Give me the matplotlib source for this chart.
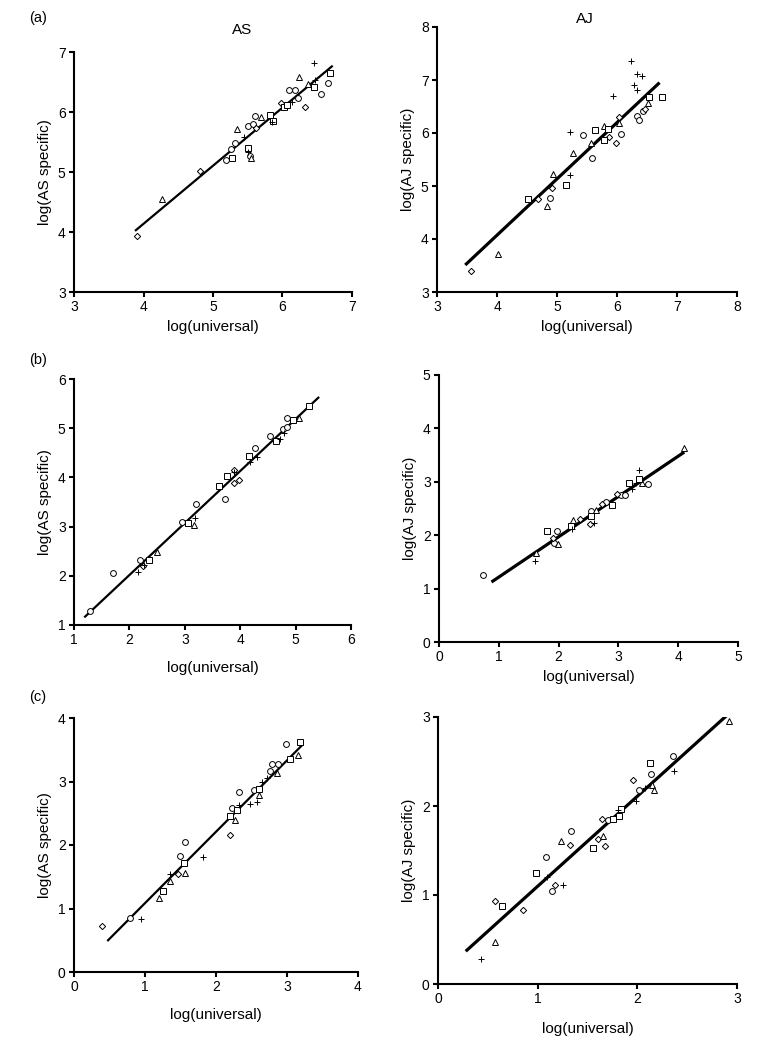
import matplotlib
matplotlib.use('Agg')
import matplotlib.pyplot as plt

plt.rcParams['font.family'] = ['Liberation Sans', 'DejaVu Sans']

# values: each panel -> marker -> (x list, y list)
as_a = {
    'o': ([5.18, 5.31, 5.26, 5.50, 5.58, 5.61, 5.53, 6.10, 6.18, 6.22, 6.56, 6.65],
          [5.20, 5.48, 5.38, 5.76, 5.80, 5.94, 5.27, 6.36, 6.36, 6.24, 6.30, 6.49]),
    'D': ([3.91, 4.81, 5.62, 5.98, 6.33],
          [3.94, 5.02, 5.73, 6.15, 6.09]),
    '^': ([4.26, 5.35, 5.69, 5.55, 6.24, 6.37],
          [4.55, 5.71, 5.92, 5.23, 6.59, 6.47]),
    's': ([5.27, 5.51, 5.82, 5.86, 6.02, 6.07, 6.45, 6.68],
          [5.23, 5.40, 5.95, 5.85, 6.09, 6.12, 6.42, 6.65]),
    '+': ([5.44, 5.85, 6.14, 6.47, 6.46, 5.50],
          [5.58, 5.84, 6.17, 6.54, 6.82, 5.33]),
}
aj_a = {
    'o': ([4.89, 5.44, 5.58, 6.07, 6.33, 6.36, 6.43],
          [4.78, 5.97, 5.52, 5.99, 6.33, 6.25, 6.41]),
    'D': ([3.57, 4.68, 4.91, 5.87, 5.98, 6.04, 6.46],
          [3.40, 4.75, 4.97, 5.92, 5.81, 6.30, 6.45]),
    '^': ([4.02, 4.83, 4.93, 5.27, 5.56, 5.79, 6.04, 6.52],
          [3.72, 4.62, 5.22, 5.63, 5.81, 6.13, 6.19, 6.57]),
    's': ([4.52, 5.15, 5.64, 5.78, 5.85, 6.54, 6.75],
          [4.76, 5.01, 6.05, 5.87, 6.08, 6.67, 6.68]),
    '+': ([5.21, 5.21, 5.93, 6.23, 6.33, 6.42, 6.28, 6.33],
          [5.21, 6.01, 6.70, 7.35, 7.12, 7.07, 6.90, 6.81]),
}
as_b = {
    'o': ([1.28, 1.71, 2.19, 2.95, 3.20, 3.72, 4.26, 4.54, 4.77, 4.84, 4.84],
          [1.29, 2.06, 2.32, 3.09, 3.46, 3.57, 4.60, 4.85, 4.98, 5.20, 5.03]),
    'D': ([2.25, 3.88, 3.97, 3.88],
          [2.19, 3.88, 3.95, 4.16]),
    '^': ([2.50, 3.16, 5.07],
          [2.48, 3.03, 5.21]),
    's': ([2.36, 3.05, 3.61, 3.76, 4.16, 4.64, 4.95, 5.24],
          [2.32, 3.07, 3.83, 4.03, 4.43, 4.73, 5.17, 5.46]),
    '+': ([2.16, 2.27, 3.18, 3.89, 4.18, 4.31, 4.72, 4.79],
          [2.08, 2.22, 3.18, 4.10, 4.31, 4.42, 4.79, 4.90]),
}
aj_b = {
    'o': ([0.74, 1.97, 1.92, 2.55, 2.80, 3.05, 3.11, 3.50],
          [1.25, 2.08, 1.86, 2.45, 2.63, 2.76, 2.76, 2.96]),
    'D': ([1.91, 2.36, 2.52, 2.73, 2.98],
          [1.94, 2.31, 2.21, 2.59, 2.78]),
    '^': ([1.63, 1.99, 2.24, 2.63, 3.40, 4.10],
          [1.67, 1.84, 2.28, 2.47, 2.97, 3.63]),
    's': ([1.81, 2.20, 2.55, 2.90, 3.18, 3.35],
          [2.08, 2.18, 2.36, 2.56, 2.97, 3.06]),
    '+': ([1.61, 2.23, 2.59, 3.22, 3.29, 3.34],
          [1.52, 2.11, 2.22, 2.86, 2.97, 3.23]),
}
as_c = {
    'o': ([0.79, 1.49, 1.56, 2.23, 2.32, 2.53, 2.76, 2.79, 2.87, 2.98],
          [0.85, 1.82, 2.05, 2.59, 2.83, 2.86, 3.16, 3.28, 3.28, 3.59]),
    'D': ([0.39, 1.47, 2.20],
          [0.72, 1.55, 2.15]),
    '^': ([1.20, 1.35, 1.57, 2.27, 2.61, 2.86, 3.15],
          [1.17, 1.43, 1.56, 2.39, 2.79, 3.13, 3.41]),
    's': ([1.25, 1.55, 2.20, 2.30, 2.60, 3.04, 3.19],
          [1.27, 1.72, 2.45, 2.55, 2.88, 3.36, 3.62]),
    '+': ([0.94, 1.35, 1.82, 2.32, 2.48, 2.58, 2.65, 2.72],
          [0.84, 1.55, 1.81, 2.63, 2.64, 2.67, 2.99, 3.06]),
}
aj_c = {
    'o': ([1.08, 1.14, 1.33, 1.71, 2.02, 2.14, 2.36],
          [1.43, 1.05, 1.72, 1.84, 2.18, 2.36, 2.56]),
    'D': ([0.57, 0.85, 1.17, 1.32, 1.61, 1.68, 1.65, 1.96],
          [0.93, 0.83, 1.11, 1.56, 1.63, 1.55, 1.85, 2.29]),
    '^': ([0.57, 1.23, 1.66, 2.15, 2.17, 2.92],
          [0.47, 1.61, 1.66, 2.24, 2.18, 2.96]),
    's': ([0.64, 0.98, 1.56, 1.76, 1.82, 1.84, 2.13],
          [0.88, 1.25, 1.53, 1.85, 1.89, 1.97, 2.48]),
    '+': ([0.43, 1.09, 1.25, 1.81, 1.99, 2.08, 2.37],
          [0.28, 1.20, 1.11, 1.96, 2.06, 2.20, 2.39]),
}

# fitted lines: end points
fit_as_a = ([3.89, 6.71], [4.03, 6.76])
fit_aj_a = ([3.49, 6.69], [3.53, 6.93])
fit_as_b = ([1.20, 5.41], [1.17, 5.62])
fit_aj_b = ([0.90, 4.08], [1.14, 3.54])
fit_as_c = ([0.48, 3.22], [0.50, 3.58])
fit_aj_c = ([0.29, 2.91], [0.38, 3.03])

W, H = 759, 1048
fig = plt.figure(figsize=(W / 100, H / 100), dpi=100)


def make_ax(left, top, right, bottom):
    return fig.add_axes([left / W, 1 - bottom / H, (right - left) / W, (bottom - top) / H])


panels = [
    (as_a, fit_as_a, (74, 52, 352, 292), (3, 7), (3, 7), 'log(AS specific)', 4, 1.6),
    (aj_a, fit_aj_a, (437, 27, 737, 292), (3, 8), (3, 8), 'log(AJ specific)', 4, 2.3),
    (as_b, fit_as_b, (74, 379, 351, 625), (1, 6), (1, 6), 'log(AS specific)', 10, 1.6),
    (aj_b, fit_aj_b, (439, 375, 738, 642), (0, 5), (0, 5), 'log(AJ specific)', 4, 2.3),
    (as_c, fit_as_c, (74, 718, 358, 972), (0, 4), (0, 4), 'log(AS specific)', 10, 1.6),
    (aj_c, fit_aj_c, (438, 717, 737, 984), (0, 3), (0, 3), 'log(AJ specific)', 11, 2.3),
]

for data, fit, box, xl, yl, ylab, lpad, flw in panels:
    ax = make_ax(*box)
    ax.plot(fit[0], fit[1], color='black', lw=flw, zorder=2)
    for m, (xs, ys) in data.items():
        ms = 3.2 if m == 'D' else 4.2
        ax.plot(xs, ys, linestyle='none', marker=m, ms=ms, mfc='white' if m != '+' else 'black',
                mec='black', mew=0.7, zorder=3)
    ax.set_xlim(*xl)
    ax.set_ylim(*yl)
    ax.set_xticks(range(xl[0], xl[1] + 1))
    ax.set_yticks(range(yl[0], yl[1] + 1))
    for s in ['top', 'right']:
        ax.spines[s].set_visible(False)
    for s in ['left', 'bottom']:
        ax.spines[s].set_linewidth(1.5)
    ax.tick_params(direction='out', length=3.5, width=1.5, labelsize=10, pad=2.5)
    ax.set_xlabel('log(universal)', fontsize=11, labelpad=lpad)
    ax.set_ylabel(ylab, fontsize=11, labelpad=4)

fig.text(242 / W, 1 - 30 / H, 'AS', fontsize=11, ha='center', va='center')
fig.text(585 / W, 1 - 19 / H, 'AJ', fontsize=11, ha='center', va='center')
fig.text(38 / W, 1 - 18 / H, '(a)', fontsize=10.5, ha='center', va='center')
fig.text(38 / W, 1 - 360 / H, '(b)', fontsize=10.5, ha='center', va='center')
fig.text(38 / W, 1 - 697 / H, '(c)', fontsize=10.5, ha='center', va='center')

fig.savefig('out.png', dpi=100)
